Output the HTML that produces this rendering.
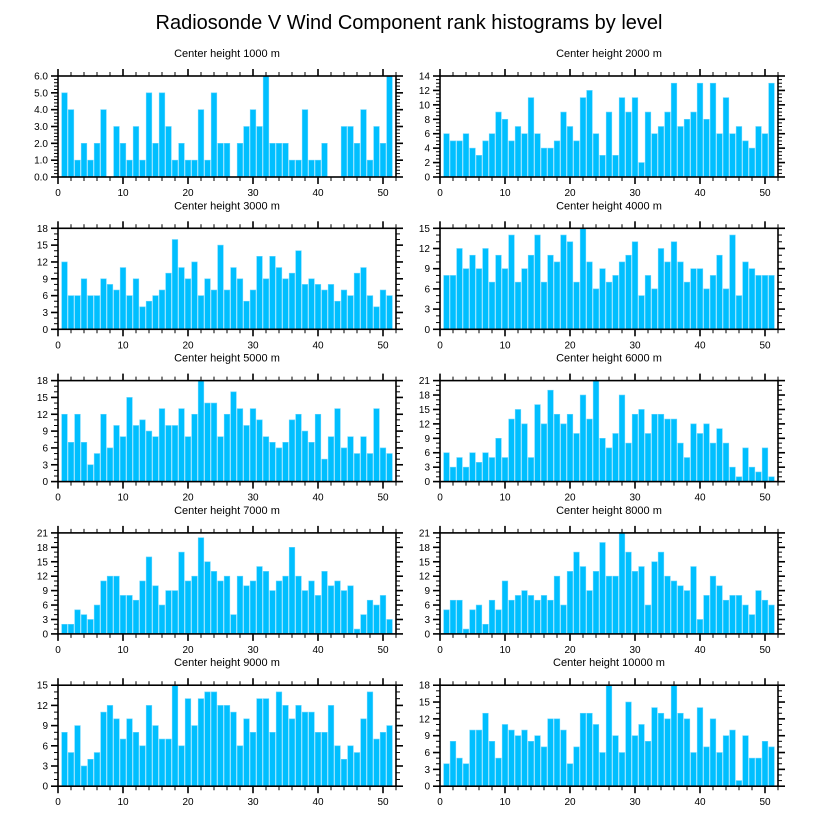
<!DOCTYPE html>
<html><head><meta charset="utf-8">
<style>
body{margin:0;background:#fff;}
svg{display:block;font-family:"Liberation Sans",Arial,sans-serif;}
</style></head>
<body>
<svg id="chart" width="818" height="824" viewBox="0 0 818 824">
<text x="409" y="29" text-anchor="middle" font-size="20" fill="#000">Radiosonde V Wind Component rank histograms by level</text>
</svg>
<script>
const panelTitles = ["Center height 1000 m","Center height 2000 m","Center height 3000 m","Center height 4000 m","Center height 5000 m","Center height 6000 m","Center height 7000 m","Center height 8000 m","Center height 9000 m","Center height 10000 m"];
const h1000 = [5,4,1,2,1,2,4,0,3,2,1,3,1,5,2,5,3,1,2,1,1,4,1,5,2,2,0,2,3,4,3,6,2,2,2,1,1,4,1,1,2,0,0,3,3,2,4,1,3,2,6];
const h2000 = [6,5,5,6,4,3,5,6,9,8,5,7,6,11,6,4,4,5,9,7,5,11,12,6,3,9,3,11,9,11,2,9,6,7,9,13,7,8,9,13,8,13,6,11,6,7,5,4,7,6,13];
const h3000 = [12,6,6,9,6,6,9,8,7,11,6,9,4,5,6,7,10,16,11,9,12,6,9,7,15,7,11,9,5,7,13,9,13,11,9,10,14,8,9,8,7,8,5,7,6,10,11,6,4,7,6];
const h4000 = [8,8,12,9,11,9,12,7,11,9,14,7,9,11,14,7,11,10,14,13,7,15,10,6,9,7,8,10,11,13,5,8,6,12,10,13,10,7,9,9,6,8,11,6,14,5,10,9,8,8,8];
const h5000 = [12,7,12,7,3,5,12,6,10,8,15,10,11,9,8,13,10,10,13,8,12,18,14,14,8,12,16,13,10,13,11,8,7,6,7,11,12,9,7,12,4,8,13,6,8,5,8,5,13,6,5];
const h6000 = [6,3,5,3,6,4,6,5,9,5,13,15,12,5,16,12,19,14,12,14,10,18,13,21,9,7,10,18,8,14,15,10,14,14,13,13,8,5,12,10,12,8,11,8,3,1,7,3,2,7,1];
const h7000 = [2,2,5,4,3,6,11,12,12,8,8,7,11,16,10,6,9,9,17,11,12,20,15,13,11,12,4,12,10,11,14,13,9,11,12,18,12,9,11,8,13,10,11,9,10,1,4,7,6,8,3];
const h8000 = [5,7,7,1,5,6,2,7,5,11,7,8,9,8,7,8,7,12,6,13,17,14,9,13,19,12,12,21,17,13,14,6,15,17,12,11,10,9,14,3,8,12,10,7,8,8,6,4,9,7,6];
const h9000 = [8,5,9,3,4,5,11,12,10,7,10,8,6,12,9,7,7,15,6,13,9,13,14,14,12,12,11,6,10,8,13,13,8,14,12,10,12,11,11,8,8,12,6,4,6,5,10,14,7,8,9];
const h10000 = [4,8,5,4,10,10,13,8,5,11,10,9,10,8,9,7,12,12,10,4,7,13,13,11,6,18,9,6,15,9,11,8,14,13,12,18,13,12,6,14,7,12,6,9,10,1,9,5,5,8,7];
const yMaxes = [6,14,18,15,18,21,21,21,15,18];
const yMajorSteps = [1,2,3,3,3,3,3,3,3,3];
const xTicks = [0,10,20,30,40,50];

const series = [h1000,h2000,h3000,h4000,h5000,h6000,h7000,h8000,h9000,h10000];
const NS = "http://www.w3.org/2000/svg";
const svg = document.getElementById("chart");
function mk(tag, attrs, parent){const e=document.createElementNS(NS,tag);for(const k in attrs)e.setAttribute(k,attrs[k]);(parent||svg).appendChild(e);return e;}

const W = 338, H = 101, XMIN = 0, XMAX = 52;
series.forEach((vals, p) => {
  const col = p % 2, row = Math.floor(p / 2);
  const L = col === 0 ? 58 : 440;
  const T = 76 + row * 152.3;
  const g = mk("g", {});
  
  
  const xs = v => L + (v - XMIN) / (XMAX - XMIN) * W;
  const ys = v => T + H - v / yMaxes[p] * H;
  const t = mk("text", {x: L + W / 2, y: T - 19, "text-anchor": "middle", "font-size": 11, fill: "#000"}, g);
  t.textContent = panelTitles[p];
  
  
  vals.forEach((v, i) => {
    const x = i + 1, bw = 0.86;
    const b = mk("rect", {x: xs(x - bw / 2), y: ys(v), width: xs(x + bw / 2) - xs(x - bw / 2), height: ys(0) - ys(v), fill: "#00bfff", stroke: "#5fd4ff", "stroke-width": 0.6}, g);
    
    
  });
  const fr = mk("rect", {x: L, y: T, width: W, height: H, fill: "none", stroke: "#000", "stroke-width": 1.6}, g);
  
  
  // x ticks
  for (let v = 0; v <= XMAX; v += 2) {
    const major = v % 10 === 0, len = major ? 7 : 4, x = xs(v);
    mk("line", {x1: x, y1: T + H, x2: x, y2: T + H + len, stroke: "#000", "stroke-width": major ? 1.6 : 1}, g);
    mk("line", {x1: x, y1: T, x2: x, y2: T - len, stroke: "#000", "stroke-width": major ? 1.6 : 1}, g);
  }
  xTicks.forEach(v => {
    const tl = mk("text", {x: xs(v), y: T + H + 19, "text-anchor": "middle", "font-size": 10, fill: "#000"}, g);
    tl.textContent = v;
    
    
  });
  // y ticks
  const st = yMajorSteps[p], nm = st === 1 ? 5 : (st === 2 ? 4 : 3), ms = st / nm;
  for (let k = 0; k * ms <= yMaxes[p] + 1e-9; k++) {
    const v = k * ms, major = k % nm === 0, len = major ? 7 : 4, y = ys(v);
    mk("line", {x1: L, y1: y, x2: L - len, y2: y, stroke: "#000", "stroke-width": major ? 1.6 : 1}, g);
    mk("line", {x1: L + W, y1: y, x2: L + W + len, y2: y, stroke: "#000", "stroke-width": major ? 1.6 : 1}, g);
    if (major) {
      const yl = mk("text", {x: L - 10, y: y + 3.5, "text-anchor": "end", "font-size": 10, fill: "#000"}, g);
      yl.textContent = st === 1 ? v.toFixed(1) : Math.round(v);
      
      
    }
  }
});
</script>
</body></html>
